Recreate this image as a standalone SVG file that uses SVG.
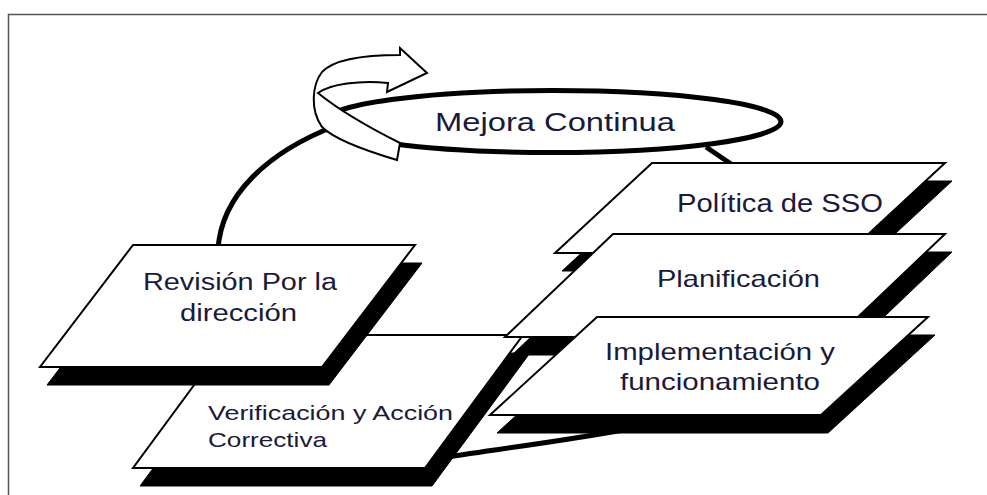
<svg xmlns="http://www.w3.org/2000/svg" width="987" height="495" viewBox="0 0 987 495">
<style>
.box{fill:#fff;stroke:#000;stroke-width:2;stroke-linejoin:miter}
.sh{fill:#000;stroke:#000;stroke-width:1}
.loop{fill:none;stroke:#000;stroke-width:5;stroke-linecap:butt}
.t{font-family:"Liberation Sans",Arial,sans-serif;fill:#1a1a3a}
</style>
<rect x="8.5" y="14.5" width="990" height="500" fill="#fff" stroke="#555" stroke-width="1.5"/>
<g id="connectors">
<path class="loop" d="M218,250 C221,195 268,152 335,126"/>
<path class="loop" d="M706,147 L737,168"/>
<path class="loop" d="M440,458 C490,450 560,442 640,427"/>
</g>
<g id="mejora">
<ellipse cx="553" cy="121.5" rx="228" ry="31" fill="#fff" stroke="#000" stroke-width="5"/>
<text class="t" x="435" y="131" font-size="26" textLength="240" lengthAdjust="spacingAndGlyphs">Mejora Continua</text>
</g>
<g id="arrow">
<path d="M397,160 L400,143 C380,133 345,115 318,93 C330,84 360,80 388,83 L387,92 L427,73 L400,48 L400,55 C370,55 335,58 322,72 C312,85 310,110 322,127 C335,140 370,152 397,160 Z" fill="#fff" stroke="#000" stroke-width="2" stroke-linejoin="miter"/>
</g>
<g id="verificacion">
<polygon class="sh" points="238,353 530,353 432,486 140,486"/>
<polygon class="box" points="231,335 523,335 425,468 133,468"/>
<text class="t" font-size="21"><tspan x="208" y="420" textLength="245" lengthAdjust="spacingAndGlyphs">Verificación y Acción</tspan><tspan x="208" y="447" textLength="119" lengthAdjust="spacingAndGlyphs">Correctiva</tspan></text>
</g>
<g id="revision">
<polygon class="sh" points="140,263 422,263 329,385 47,385"/>
<polygon class="box" points="133,245 415,245 322,367 40,367"/>
<text class="t" font-size="23"><tspan x="143" y="290" textLength="194" lengthAdjust="spacingAndGlyphs">Revisión Por la</tspan><tspan x="180" y="321" textLength="117" lengthAdjust="spacingAndGlyphs">dirección</tspan></text>
</g>
<g id="politica">
<polygon class="sh" points="659,181 952,181 855,271 562,271"/>
<polygon class="box" points="652,163 945,163 848,253 555,253"/>
<text class="t" x="677" y="212" font-size="25" textLength="206" lengthAdjust="spacingAndGlyphs">Política de SSO</text>
</g>
<g id="planificacion">
<polygon class="sh" points="620,252 952,252 844,355 512,355"/>
<polygon class="box" points="613,234 945,234 837,337 505,337"/>
<text class="t" x="657" y="287" font-size="24" textLength="163" lengthAdjust="spacingAndGlyphs">Planificación</text>
</g>
<g id="implementacion">
<polygon class="sh" points="604,335 935,335 828,433 497,433"/>
<polygon class="box" points="597,317 928,317 821,415 490,415"/>
<text class="t" font-size="24"><tspan x="605" y="360" textLength="230" lengthAdjust="spacingAndGlyphs">Implementación y</tspan><tspan x="620" y="390" textLength="200" lengthAdjust="spacingAndGlyphs">funcionamiento</tspan></text>
</g>
</svg>
